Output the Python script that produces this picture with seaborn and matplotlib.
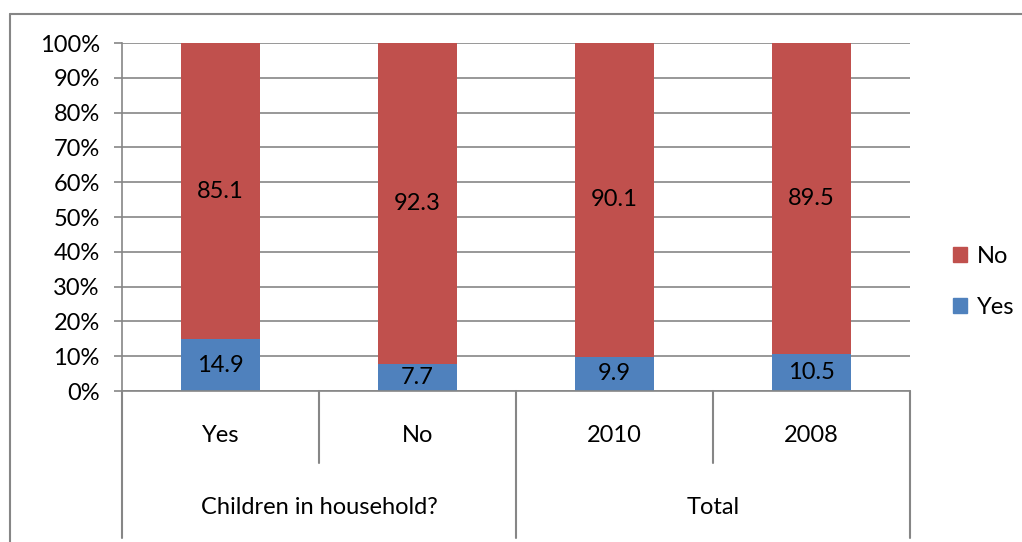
import matplotlib
matplotlib.use("Agg")
import matplotlib.pyplot as plt
import matplotlib.patches as mpatches
from matplotlib.lines import Line2D
import seaborn as sns
import pandas as pd

categories = ["Yes", "No", "2010", "2008"]
groups = ["Children in household?", "Total"]
group_sizes = [2, 2]
yes_values = [14.9, 7.7, 9.9, 10.5]
no_values = [85.1, 92.3, 90.1, 89.5]
yticks = list(range(0, 101, 10))
ytick_labels = [f"{t}%" for t in yticks]

RED = "#C0504D"
BLUE = "#4F81BD"
GRAY = "#868686"

sns.set_theme(style="white")
plt.rcParams["font.family"] = ["Lato", "DejaVu Sans"]
plt.rcParams["text.color"] = "black"
FS = 17

df = pd.DataFrame({
    "category": categories,
    "yes": yes_values,
    "no": no_values,
})
df["total"] = df["yes"] + df["no"]

W, H = 1022, 542
fig = plt.figure(figsize=(W / 100, H / 100), dpi=100)
ax = fig.add_axes([122 / W, 151 / H, (910 - 122) / W, (391 - 43) / H])

sns.barplot(data=df, x="category", y="total", order=categories, color=RED,
            saturation=1, width=0.4, ax=ax, linewidth=0, zorder=3)
sns.barplot(data=df, x="category", y="yes", order=categories, color=BLUE,
            saturation=1, width=0.4, ax=ax, linewidth=0, zorder=4)

ax.set_ylim(0, 100)
ax.set_xlim(-0.5, len(categories) - 0.5)
ax.set_yticks(yticks)
ax.set_yticklabels(ytick_labels, fontsize=FS, color="black")
ax.set_xticks([])
ax.set_xlabel("")
ax.set_ylabel("")
ax.yaxis.grid(True, color=GRAY, linewidth=1.2, zorder=0)
ax.set_axisbelow(True)
ax.tick_params(axis="y", length=6, width=1.2, color=GRAY, pad=10, left=True)
for s in ["top", "right"]:
    ax.spines[s].set_visible(False)
for s in ["left", "bottom"]:
    ax.spines[s].set_color(GRAY)
    ax.spines[s].set_linewidth(1.2)
ax.spines["bottom"].set_zorder(5)

# data labels
for i, (y, n) in enumerate(zip(yes_values, no_values)):
    ax.text(i, y / 2, f"{y}", ha="center", va="center", fontsize=FS, zorder=6, color="black")
    ax.text(i, y + n / 2, f"{n}", ha="center", va="center", fontsize=FS, zorder=6, color="black")

# multi-level category axis
tr = ax.get_xaxis_transform()
ah = 391 - 43
short_y = (391 - 463) / ah
long_y = (391 - 538) / ah
cat_y = (391 - 436) / ah
grp_y = (391 - 508) / ah
for i, c in enumerate(categories):
    ax.text(i, cat_y, c, transform=tr, ha="center", va="center", fontsize=FS, color="black")
bounds = [-0.5]
for g in group_sizes:
    bounds.append(bounds[-1] + g)
for b in [x + 0.5 for x in range(len(categories) - 1)] + [-0.5, len(categories) - 0.5]:
    y_end = long_y if b in bounds else short_y
    ax.add_line(Line2D([b, b], [0, y_end], transform=tr, color=GRAY,
                       linewidth=1.5, clip_on=False))
for gi, g in enumerate(groups):
    center = (bounds[gi] + bounds[gi + 1]) / 2
    ax.text(center, grp_y, g, transform=tr, ha="center", va="center", fontsize=FS, color="black")

# legend
handles = [mpatches.Patch(color=RED, label="No"), mpatches.Patch(color=BLUE, label="Yes")]
fig.legend(handles=handles, loc="center left", bbox_to_anchor=(953 / W, 1 - 282 / H),
           frameon=False, fontsize=FS, handlelength=0.6, handleheight=0.6,
           handletextpad=0.4, labelspacing=1.25, borderpad=0, borderaxespad=0,
           labelcolor="black")

# outer chart border
fig.add_artist(Line2D([10 / W, 1.0], [1 - 14 / H, 1 - 14 / H], transform=fig.transFigure,
                      color=GRAY, linewidth=1.5))
fig.add_artist(Line2D([10 / W, 10 / W], [0, 1 - 14 / H], transform=fig.transFigure,
                      color=GRAY, linewidth=1.5))

fig.savefig("out.png", dpi=100, facecolor="white")
